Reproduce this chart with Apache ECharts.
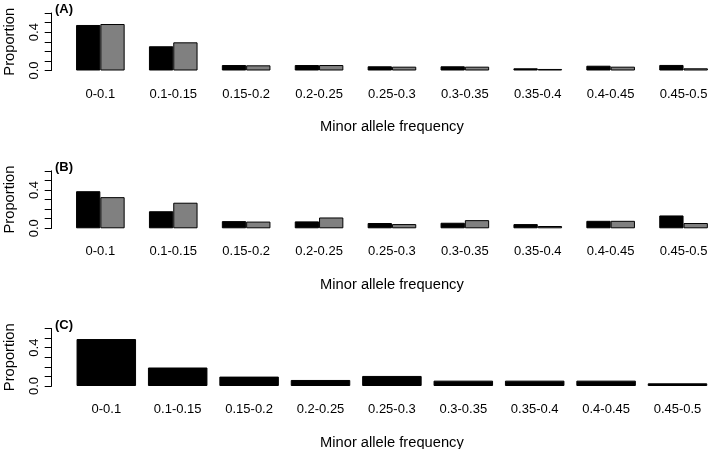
<!DOCTYPE html>
<html>
<head>
<meta charset="utf-8">
<script src="https://cdn.jsdelivr.net/npm/echarts@6/dist/echarts.min.js"></script>
<style>
html,body{margin:0;padding:0;background:#fff;}
#chart{width:709px;height:449px;}
</style>
</head>
<body>
<div id="chart"></div>
<script>
var categories = ['0-0.1','0.1-0.15','0.15-0.2','0.2-0.25','0.25-0.3','0.3-0.35','0.35-0.4','0.4-0.45','0.45-0.5'];
var panelA_black = [0.475, 0.253, 0.057, 0.057, 0.044, 0.044, 0.023, 0.050, 0.058];
var panelA_grey  = [0.485, 0.294, 0.054, 0.057, 0.040, 0.040, 0.016, 0.040, 0.023];
var panelB_black = [0.387, 0.178, 0.075, 0.072, 0.055, 0.058, 0.044, 0.078, 0.134];
var panelB_grey  = [0.325, 0.267, 0.070, 0.113, 0.044, 0.085, 0.024, 0.078, 0.055];
var panelC_black = [0.490, 0.193, 0.098, 0.063, 0.105, 0.056, 0.056, 0.056, 0.028];
var panelLabels = ['(A)','(B)','(C)'];
var yLabelValues = [0, 0.4];
var xTitle = 'Minor allele frequency';
var yTitle = 'Proportion';

var FONT = 'Liberation Sans, Arial, Helvetica, sans-serif';
var chart = echarts.init(document.getElementById('chart'), null, {renderer:'canvas'});

var grids = [
  {left:63.9, width:656.1, top:13, height:57.5},
  {left:63.9, width:656.1, top:170.8, height:57.5},
  {left:70.6, width:642.6, top:328.5, height:57.5}
];
var axisX = 51.7;

function xAxisFor(i){
  return {
    type:'category', gridIndex:i, data:categories,
    axisLine:{show:false}, axisTick:{show:false},
    axisLabel:{color:'#000', fontSize:13, fontFamily:FONT, margin:17, interval:0},
    name:xTitle, nameLocation:'middle', nameGap:49,
    nameTextStyle:{color:'#000', fontSize:14.7, fontFamily:FONT}
  };
}
function yAxisFor(i){
  return {
    type:'value', gridIndex:i, min:0, max:0.6, interval:0.1,
    offset: grids[i].left - axisX,
    splitLine:{show:false},
    axisLine:{show:true, lineStyle:{color:'#000', width:1}},
    axisTick:{show:true, length:7, lineStyle:{color:'#000', width:1}},
    axisLabel:{color:'#000', fontSize:13, fontFamily:FONT, rotate:90, margin:11,
      showMinLabel:true, showMaxLabel:true,
      formatter:function(v){
        for (var k=0;k<yLabelValues.length;k++){ if (Math.abs(v-yLabelValues[k])<1e-9) return yLabelValues[k].toFixed(1); }
        return '';
      }},
    name:yTitle, nameLocation:'middle', nameGap:34,
    nameTextStyle:{color:'#000', fontSize:14.7, fontFamily:FONT}
  };
}

var series = [];
function bar(i, data, color, w){
  return {type:'bar', xAxisIndex:i, yAxisIndex:i, data:data, barWidth:w, barGap:'0%',
    itemStyle:{color:color, borderColor:'#000', borderWidth:1}, silent:true, animation:false};
}
series.push(bar(0, panelA_black, '#000', 24.3));
series.push(bar(0, panelA_grey, '#808080', 24.3));
series.push(bar(1, panelB_black, '#000', 24.3));
series.push(bar(1, panelB_grey, '#808080', 24.3));
series.push(bar(2, panelC_black, '#000', 59.5));

var graphics = panelLabels.map(function(t,i){
  return {type:'text', left:55, top:grids[i].top - 10, style:{text:t, font:'bold 13px '+FONT, fill:'#000'}};
});

chart.setOption({
  animation:false,
  backgroundColor:'#fff',
  grid:grids.map(function(g){return {left:g.left, width:g.width, top:g.top, height:g.height, containLabel:false, outerBoundsMode:'none'};}),
  xAxis:[xAxisFor(0), xAxisFor(1), xAxisFor(2)],
  yAxis:[yAxisFor(0), yAxisFor(1), yAxisFor(2)],
  series:series,
  graphic:graphics
});
</script>
</body>
</html>
